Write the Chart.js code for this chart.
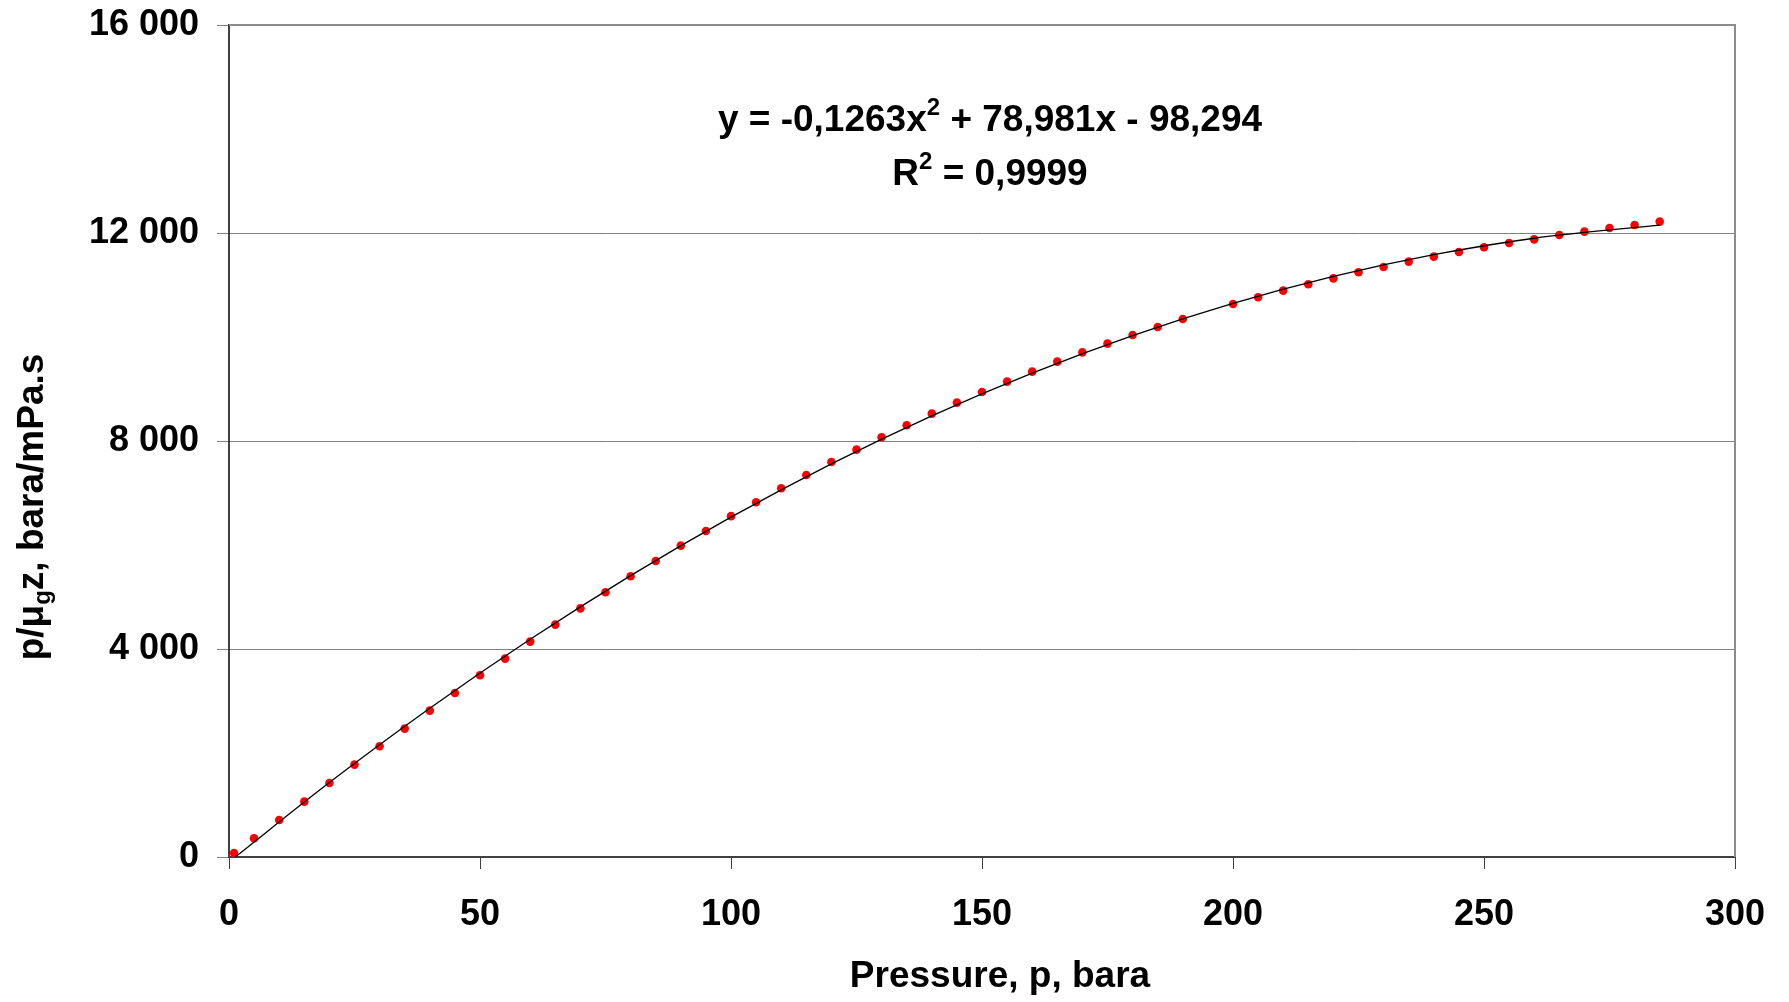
<!DOCTYPE html>
<html>
<head>
<meta charset="utf-8">
<script src="https://cdn.jsdelivr.net/npm/chart.js@4.4.1/dist/chart.umd.min.js"></script>
<style>
  html, body { margin: 0; padding: 0; background: #fff; }
  canvas { display: block; }
</style>
</head>
<body>
<canvas id="chart" width="1789" height="1002"></canvas>
<script>
// measured points, p in bara
const pressure = [1, 5, 10, 15, 20, 25, 30, 35, 40, 45, 50, 55, 60, 65, 70, 75, 80, 85, 90, 95,
  100, 105, 110, 115, 120, 125, 130, 135, 140, 145, 150, 155, 160, 165, 170, 175, 180, 185, 190,
  200, 205, 210, 215, 220, 225, 230, 235, 240, 245, 250, 255, 260, 265, 270, 275, 280, 285];
const pOverMuZ = [77, 360, 711, 1065, 1423, 1777, 2129, 2469, 2815, 3154, 3494, 3815, 4142, 4469, 4782, 5090, 5398, 5692, 5988, 6269,
  6555, 6821, 7090, 7346, 7596, 7834, 8071, 8302, 8527, 8738, 8942, 9142, 9334, 9526, 9705, 9873, 10038, 10192, 10346,
  10634, 10763, 10892, 11013, 11128, 11244, 11346, 11450, 11546, 11634, 11725, 11807, 11878, 11961, 12026, 12096, 12154, 12219];

// trend line
const trendP = [1, 20, 40, 60, 80, 100, 120, 140, 160, 180, 200, 220, 240, 260, 285];
const trendY = [-19, 1431, 2859, 4186, 5412, 6537, 7561, 8484, 9305, 10026, 10646, 11165, 11582, 11899, 12153];

const xTicks = [0, 50, 100, 150, 200, 250, 300];
const yTicks = [0, 4000, 8000, 12000, 16000];

const FONT = '"Liberation Sans", Arial, sans-serif';

const toPoints = (xs, ys) => xs.map((x, i) => ({x: x, y: ys[i]}));
const spaced = v => String(v).replace(/\B(?=(\d{3})+(?!\d))/g, ' ');

// text with sub/superscript bits, centred on cx
function drawRich(ctx, parts, cx, baseY, size) {
  const small = Math.round(size * 0.65);
  let total = 0;
  parts.forEach(p => {
    ctx.font = 'bold ' + (p.s ? small : size) + 'px ' + FONT;
    p.w = ctx.measureText(p.t).width;
    total += p.w;
  });
  let x = cx - total / 2;
  parts.forEach(p => {
    ctx.font = 'bold ' + (p.s ? small : size) + 'px ' + FONT;
    let y = baseY;
    if (p.s === 'sup') y = baseY - size * 0.42;
    if (p.s === 'sub') y = baseY + size * 0.2;
    ctx.fillText(p.t, x, y);
    x += p.w;
  });
}

const extras = {
  id: 'extras',
  afterDraw(chart) {
    const ctx = chart.ctx;
    const a = chart.chartArea;
    ctx.save();

    // frame top + right
    ctx.strokeStyle = '#8c8c8c';
    ctx.lineWidth = 2;
    ctx.beginPath();
    ctx.moveTo(a.left, a.top);
    ctx.lineTo(a.right, a.top);
    ctx.lineTo(a.right, a.bottom);
    ctx.stroke();

    ctx.fillStyle = '#000';
    ctx.textAlign = 'left';
    ctx.textBaseline = 'alphabetic';

    // equation
    drawRich(ctx, [{t: 'y = -0,1263x'}, {t: '2', s: 'sup'}, {t: ' + 78,981x - 98,294'}], 990, 131, 37);
    drawRich(ctx, [{t: 'R'}, {t: '2', s: 'sup'}, {t: ' = 0,9999'}], 990, 185, 37);

    // x title
    drawRich(ctx, [{t: 'Pressure, p, bara'}], 1000, 987, 37);

    // y title
    ctx.translate(43, 507);
    ctx.rotate(-Math.PI / 2);
    drawRich(ctx, [{t: 'p/μ'}, {t: 'g', s: 'sub'}, {t: 'z, bara/mPa.s'}], 0, 0, 37);

    ctx.restore();
  }
};

new Chart(document.getElementById('chart'), {
  type: 'scatter',
  data: {
    datasets: [
      {
        label: 'p/μgz',
        data: toPoints(pressure, pOverMuZ),
        showLine: false,
        pointRadius: 4.3,
        pointBackgroundColor: '#ff0000',
        pointBorderWidth: 0,
        order: 1
      },
      {
        label: 'trend',
        data: toPoints(trendP, trendY),
        showLine: true,
        borderColor: '#000',
        borderWidth: 1.3,
        pointRadius: 0,
        cubicInterpolationMode: 'monotone',
        order: 0
      }
    ]
  },
  options: {
    responsive: false,
    animation: false,
    devicePixelRatio: 1,
    layout: { padding: { left: 0, top: 25, right: 54, bottom: 0 } },
    plugins: {
      legend: { display: false },
      tooltip: { enabled: false }
    },
    scales: {
      x: {
        type: 'linear',
        min: 0,
        max: 300,
        afterBuildTicks: s => { s.ticks = xTicks.map(v => ({value: v})); },
        afterFit: s => { s.height = 145; s.paddingLeft = 0; s.paddingRight = 0; },
        border: { color: '#404040', width: 2 },
        grid: { drawOnChartArea: false, tickLength: 12, tickColor: '#404040', tickWidth: 1 },
        ticks: {
          padding: 24,
          color: '#000',
          font: { family: FONT, size: 36, weight: 'bold' },
          callback: v => spaced(v)
        }
      },
      y: {
        type: 'linear',
        min: 0,
        max: 16000,
        afterBuildTicks: s => { s.ticks = yTicks.map(v => ({value: v})); },
        afterFit: s => { s.width = 229; s.paddingTop = 0; s.paddingBottom = 0; },
        border: { color: '#404040', width: 2 },
        grid: { color: '#808080', lineWidth: 1, tickLength: 12, tickColor: '#808080' },
        ticks: {
          padding: 18,
          color: '#000',
          font: { family: FONT, size: 36, weight: 'bold' },
          callback: v => spaced(v)
        }
      }
    }
  },
  plugins: [extras]
});
</script>
</body>
</html>
